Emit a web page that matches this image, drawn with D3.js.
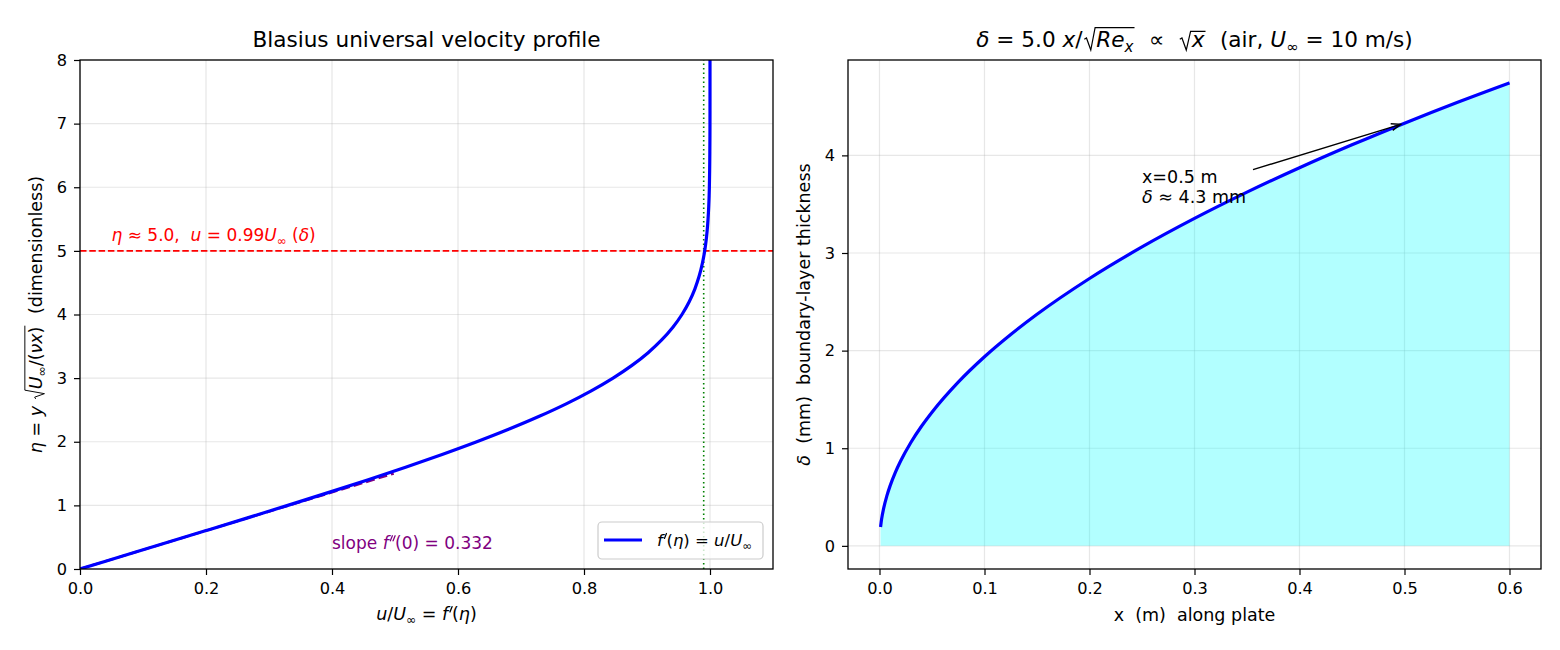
<!DOCTYPE html>
<html>
<head>
<meta charset="utf-8">
<script src="https://cdn.jsdelivr.net/npm/d3@7"></script>
<style>
  body { margin: 0; background: #fff; }
  svg text { font-family: "DejaVu Sans", sans-serif; white-space: pre; }
</style>
</head>
<body>
<svg id="chart" width="1560" height="650"></svg>
<script>
// Blasius similarity solution, f'(eta)
const etaVals = [0, 0.2, 0.4, 0.6, 0.8, 1.0, 1.2, 1.4, 1.6, 1.8, 2.0, 2.2, 2.4, 2.6, 2.8, 3.0,
  3.2, 3.4, 3.6, 3.8, 4.0, 4.2, 4.4, 4.6, 4.8, 5.0, 5.2, 5.4, 5.6, 5.8, 6.0, 6.4, 6.8, 7.2, 7.6, 8.0];
const fpVals = [0, 0.0664, 0.1328, 0.1989, 0.2647, 0.3298, 0.3938, 0.4563, 0.5168, 0.5748, 0.6298,
  0.6813, 0.7290, 0.7725, 0.8115, 0.8461, 0.8761, 0.9018, 0.9233, 0.9411, 0.9555, 0.9670, 0.9759,
  0.9827, 0.9878, 0.9916, 0.9943, 0.9962, 0.9975, 0.9984, 0.9990, 0.9996, 0.9999, 1.0, 1.0, 1.0];

// wall slope line  u = 0.332 eta
const slopeEta = [0, 1.5];
const slopeU = [0, 0.498];

// boundary-layer thickness along the plate (air, U = 10 m/s)
const plateX = [0.001, 0.002, 0.004, 0.007, 0.01, 0.015, 0.02, 0.03, 0.04, 0.05, 0.075, 0.1, 0.125,
  0.15, 0.2, 0.25, 0.3, 0.35, 0.4, 0.45, 0.5, 0.55, 0.6];
const deltaMM = [0.194, 0.274, 0.387, 0.512, 0.612, 0.750, 0.866, 1.061, 1.225, 1.369, 1.677, 1.937,
  2.165, 2.372, 2.739, 3.062, 3.354, 3.623, 3.873, 4.108, 4.330, 4.542, 4.743];

const leftXTicks = [0, 0.2, 0.4, 0.6, 0.8, 1.0];
const leftYTicks = [0, 1, 2, 3, 4, 5, 6, 7, 8];
const rightXTicks = [0, 0.1, 0.2, 0.3, 0.4, 0.5, 0.6];
const rightYTicks = [0, 1, 2, 3, 4];

const svg = d3.select("#chart");

// lay out a run of plain / italic / sub / prime pieces, with optional radicals
function mathText(parent, x, y, parts, size, anchor, color) {
  color = color || "#000";
  const g = parent.append("g").attr("fill", color);
  let cx = 0;
  const put = (p) => {
    if (p.prime) {
      // slanted prime strokes, like mathtext f'
      for (let k = 0; k < p.prime; k++) {
        const px = cx + size * (0.1 + k * 0.16);
        g.append("path")
          .attr("d", `M${px},${-0.46 * size}L${px + 0.12 * size},${-0.76 * size}`)
          .attr("stroke", color).attr("stroke-width", size * 0.075).attr("stroke-linecap", "round");
      }
      cx += size * (0.22 + 0.16 * (p.prime - 1));
      return;
    }
    const fs = p.sub ? size * 0.7 : size;
    const t = g.append("text")
      .attr("x", cx)
      .attr("y", p.sub ? size * 0.22 : 0)
      .attr("font-size", fs)
      .attr("font-style", p.i ? "italic" : null)
      .text(p.t);
    cx += t.node().getComputedTextLength();
  };
  parts.forEach(p => {
    if (p.sqrt) {
      const r0 = cx + size * 0.08;
      const top = p.top || 0.86;
      cx = r0 + size * 0.55;
      p.sqrt.forEach(put);
      const s = size;
      g.append("path")
        .attr("d", `M${r0},${-0.36 * s}L${r0 + 0.1 * s},${-0.42 * s}L${r0 + 0.3 * s},${0.14 * s}` +
          `L${r0 + 0.5 * s},${-top * s}L${cx + 0.05 * s},${-top * s}`)
        .attr("fill", "none").attr("stroke", color).attr("stroke-width", s * 0.055)
        .attr("stroke-linejoin", "miter");
      cx += size * 0.08;
    } else {
      put(p);
    }
  });
  const off = anchor === "middle" ? -cx / 2 : anchor === "end" ? -cx : 0;
  g.attr("transform", `translate(${x + off},${y})`);
  return { g: g, width: cx };
}

function drawFrame(x, y, opts) {
  const [x0, x1] = x.range();
  const [y0, y1] = y.range();
  const grid = svg.append("g").attr("stroke", "#b0b0b0").attr("stroke-opacity", 0.3).attr("stroke-width", 1.2);
  opts.xt.forEach(v => grid.append("line").attr("x1", x(v)).attr("x2", x(v)).attr("y1", y0).attr("y2", y1));
  opts.yt.forEach(v => grid.append("line").attr("x1", x0).attr("x2", x1).attr("y1", y(v)).attr("y2", y(v)));

  const ax = svg.append("g").attr("transform", `translate(0,${y0})`)
    .call(d3.axisBottom(x).tickValues(opts.xt).tickFormat(d3.format(".1f")).tickSize(6).tickPadding(7));
  const ay = svg.append("g").attr("transform", `translate(${x0},0)`)
    .call(d3.axisLeft(y).tickValues(opts.yt).tickFormat(d3.format("d")).tickSize(6).tickPadding(7));
  [ax, ay].forEach(a => {
    a.select(".domain").remove();
    a.selectAll(".tick line").attr("stroke", "#000").attr("stroke-width", 1.2);
    a.selectAll(".tick text").attr("font-size", 16.2).attr("fill", "#000")
      .attr("font-family", "DejaVu Sans, sans-serif");
  });
}

function drawSpines(x, y) {
  const [x0, x1] = x.range();
  const [y0, y1] = y.range();
  svg.append("rect").attr("x", x0).attr("y", y1).attr("width", x1 - x0).attr("height", y0 - y1)
    .attr("fill", "none").attr("stroke", "#000").attr("stroke-width", 1.3);
}

// ---------------- left panel ----------------
const xL = d3.scaleLinear().domain([0, 1.1]).range([80, 773]);
const yL = d3.scaleLinear().domain([0, 8]).range([569, 60]);

svg.append("defs").append("clipPath").attr("id", "clipL")
  .append("rect").attr("x", 80).attr("y", 60).attr("width", 693).attr("height", 509);

drawFrame(xL, yL, { xt: leftXTicks, yt: leftYTicks });

const plotL = svg.append("g").attr("clip-path", "url(#clipL)");

plotL.append("line")
  .attr("x1", xL(0)).attr("x2", xL(1.1)).attr("y1", yL(5)).attr("y2", yL(5))
  .attr("stroke", "#ff0000").attr("stroke-width", 1.6).attr("stroke-dasharray", "6.5,2.8");

plotL.append("line")
  .attr("x1", xL(0.99)).attr("x2", xL(0.99)).attr("y1", yL(0)).attr("y2", yL(8))
  .attr("stroke", "#008000").attr("stroke-width", 1.6).attr("stroke-dasharray", "1.6,2.9");

plotL.append("path")
  .datum(slopeEta.map((e, i) => [slopeU[i], e]))
  .attr("d", d3.line().x(d => xL(d[0])).y(d => yL(d[1])))
  .attr("fill", "none").attr("stroke", "#800080").attr("stroke-width", 2.4)
  .attr("stroke-dasharray", "9,4");

plotL.append("path")
  .datum(etaVals.map((e, i) => [fpVals[i], e]))
  .attr("d", d3.line().x(d => xL(d[0])).y(d => yL(d[1])).curve(d3.curveCatmullRom.alpha(0.5)))
  .attr("fill", "none").attr("stroke", "#0000ff").attr("stroke-width", 3.2);

drawSpines(xL, yL);

mathText(svg, xL(0.05), yL(5.15), [
  { t: "η", i: true }, { t: " ≈ 5.0,  " }, { t: "u", i: true }, { t: " = 0.99" },
  { t: "U", i: true }, { t: "∞", sub: true }, { t: " (" }, { t: "δ", i: true }, { t: ")" }
], 17, "start", "#ff0000");

mathText(svg, xL(0.4), yL(0.32), [
  { t: "slope " }, { t: "f", i: true }, { prime: 2 }, { t: "(0) = 0.332" }
], 17, "start", "#800080");

// legend
const lg = svg.append("g");
lg.append("rect").attr("x", 598).attr("y", 522).attr("width", 165).attr("height", 37).attr("rx", 4)
  .attr("fill", "#fff").attr("fill-opacity", 0.8).attr("stroke", "#cccccc").attr("stroke-width", 1.2);
lg.append("line").attr("x1", 604).attr("x2", 642).attr("y1", 540).attr("y2", 540)
  .attr("stroke", "#0000ff").attr("stroke-width", 3.2);
mathText(lg, 657, 546, [
  { t: "f", i: true }, { prime: 1 }, { t: "(" }, { t: "η", i: true }, { t: ") = " }, { t: "u", i: true },
  { t: "/" }, { t: "U", i: true }, { t: "∞", sub: true }
], 16.5, "start");

mathText(svg, 426.5, 47, [{ t: "Blasius universal velocity profile" }], 21.6, "middle");
mathText(svg, 426.5, 620, [
  { t: "u", i: true }, { t: "/" }, { t: "U", i: true }, { t: "∞", sub: true }, { t: " = " },
  { t: "f", i: true }, { prime: 1 }, { t: "(" }, { t: "η", i: true }, { t: ")" }
], 17.5, "middle");

const ylabL = svg.append("g").attr("transform", "translate(42,314.5) rotate(-90)");
mathText(ylabL, 0, 0, [
  { t: "η", i: true }, { t: " = " }, { t: "y", i: true }, { t: " " },
  { sqrt: [{ t: "U", i: true }, { t: "∞", sub: true }, { t: "/(" }, { t: "νx", i: true }, { t: ")" }], top: 0.98 },
  { t: "  (dimensionless)" }
], 17.5, "middle");

// ---------------- right panel ----------------
const xR = d3.scaleLinear().domain([-0.03, 0.63]).range([848, 1541]);
const yR = d3.scaleLinear().domain([-0.237, 4.977]).range([569, 60]);

drawFrame(xR, yR, { xt: rightXTicks, yt: rightYTicks });

const pts = plateX.map((x, i) => [x, deltaMM[i]]);
svg.append("path")
  .datum(pts)
  .attr("d", d3.area().x(d => xR(d[0])).y0(yR(0)).y1(d => yR(d[1])).curve(d3.curveMonotoneX))
  .attr("fill", "#00ffff").attr("fill-opacity", 0.3);
svg.append("path")
  .datum(pts)
  .attr("d", d3.line().x(d => xR(d[0])).y(d => yR(d[1])).curve(d3.curveMonotoneX))
  .attr("fill", "none").attr("stroke", "#0000ff").attr("stroke-width", 3.2);

drawSpines(xR, yR);

// annotation at x = 0.5 m
const tx = xR(0.25), ty = yR(3.5) - 1;
const l1 = mathText(svg, tx, ty - 20.5, [{ t: "x=0.5 m" }], 17.5, "start");
const l2 = mathText(svg, tx, ty, [{ t: "δ", i: true }, { t: " ≈ 4.3 mm" }], 17.5, "start");
const hx = xR(0.5), hy = yR(4.33);
const sx = tx + Math.max(l1.width, l2.width) + 7, sy = ty - 20.5 - 13;
const ang = Math.atan2(hy - sy, hx - sx);
const ex = hx - 4 * Math.cos(ang), ey = hy - 4 * Math.sin(ang);
const hl = 10, hw = 0.35;
svg.append("path")
  .attr("d", `M${sx},${sy}L${ex},${ey}` +
    `M${ex - hl * Math.cos(ang - hw)},${ey - hl * Math.sin(ang - hw)}L${ex},${ey}` +
    `L${ex - hl * Math.cos(ang + hw)},${ey - hl * Math.sin(ang + hw)}`)
  .attr("fill", "none").attr("stroke", "#000").attr("stroke-width", 1.4);

mathText(svg, 1194.5, 47, [
  { t: "δ", i: true }, { t: " = 5.0 " }, { t: "x", i: true }, { t: "/" },
  { sqrt: [{ t: "Re", i: true }, { t: "x", i: true, sub: true }], top: 0.9 },
  { t: "  ∝  " }, { sqrt: [{ t: "x", i: true }], top: 0.72 },
  { t: "  (air, " }, { t: "U", i: true }, { t: "∞", sub: true }, { t: " = 10 m/s)" }
], 21.6, "middle");

mathText(svg, 1194.5, 621, [{ t: "x  (m)  along plate" }], 17.5, "middle");

const ylabR = svg.append("g").attr("transform", "translate(810,314.5) rotate(-90)");
mathText(ylabR, 0, 0, [{ t: "δ", i: true }, { t: "  (mm)  boundary-layer thickness" }], 17.5, "middle");
</script>
</body>
</html>
